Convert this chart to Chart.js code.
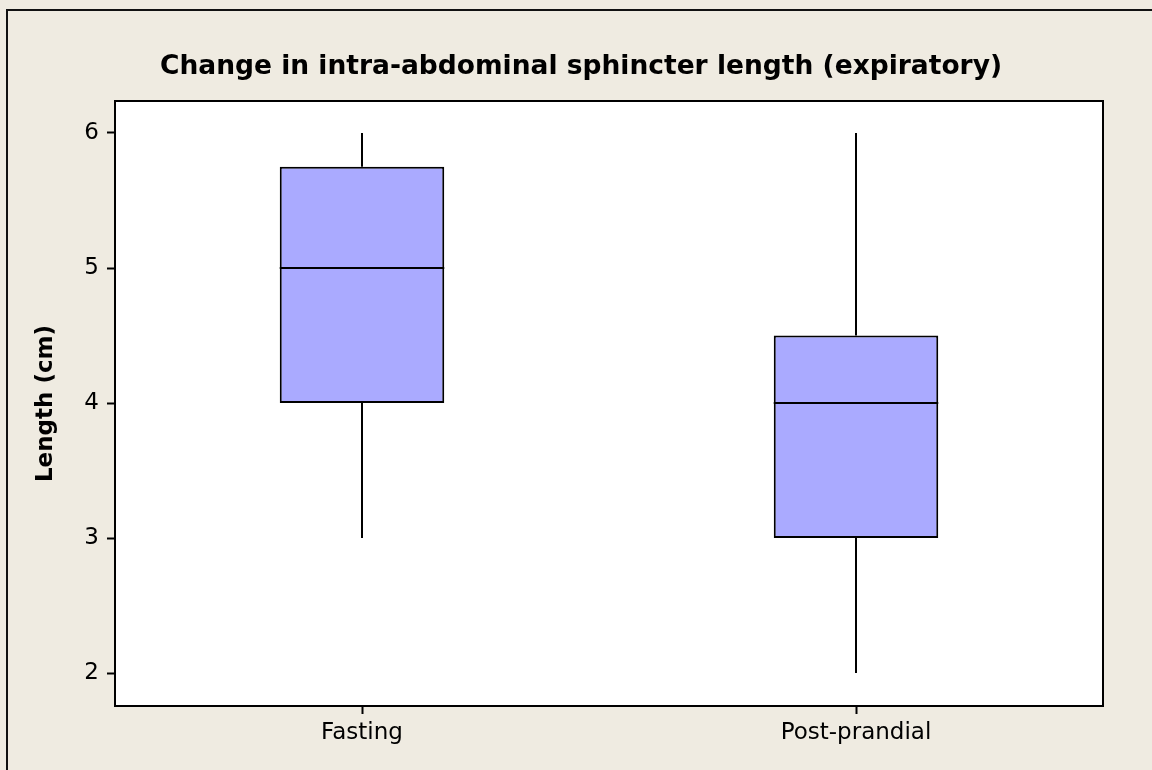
<!DOCTYPE html>
<html><head><meta charset="utf-8">
<script src="https://cdn.jsdelivr.net/npm/chart.js@4.4.0/dist/chart.umd.min.js"></script>
<style>html,body{margin:0;padding:0;background:#EFEBE1;} canvas{display:block;}</style>
</head><body>
<canvas id="c" width="1152" height="770"></canvas>
<script>
const categories = ['Fasting', 'Post-prandial'];
const whiskerLow = [3, 2];
const q1 = [4, 3];
const median = [5, 4];
const q3 = [5.75, 4.5];
const whiskerHigh = [6, 6];
const yTicks = [2, 3, 4, 5, 6];

const FONT = "'DejaVu Sans', Verdana, sans-serif";
const BG = '#EFEBE1';

const framePlugin = {
  id: 'frame',
  afterLayout(chart) {
    const tb = chart.titleBlock;
    if (tb) { tb.left = 59; tb.right = 1103; tb.width = tb.right - tb.left; }
  },
  beforeDraw(chart) {
    const ctx = chart.ctx, a = chart.chartArea;
    ctx.save();
    ctx.fillStyle = BG;
    ctx.fillRect(0, 0, chart.width, chart.height);
    ctx.strokeStyle = '#111';
    ctx.lineWidth = 2;
    ctx.beginPath();
    ctx.moveTo(7, chart.height + 5);
    ctx.lineTo(7, 10);
    ctx.lineTo(chart.width + 5, 10);
    ctx.stroke();
    ctx.fillStyle = '#FFFFFF';
    ctx.fillRect(a.left, a.top, a.right - a.left, a.bottom - a.top);
    ctx.restore();
  },
  afterDatasetsDraw(chart) {
    const ctx = chart.ctx, a = chart.chartArea;
    const ys = chart.scales.y;
    const meta = chart.getDatasetMeta(0);
    ctx.save();
    ctx.strokeStyle = '#000';
    ctx.lineWidth = 2;
    meta.data.forEach((bar, i) => {
      const x = Math.round(bar.x);
      const half = bar.width / 2;
      ctx.beginPath();
      ctx.moveTo(x, ys.getPixelForValue(q3[i]));
      ctx.lineTo(x, ys.getPixelForValue(whiskerHigh[i]));
      ctx.moveTo(x, ys.getPixelForValue(q1[i]));
      ctx.lineTo(x, ys.getPixelForValue(whiskerLow[i]));
      const my = ys.getPixelForValue(median[i]);
      ctx.moveTo(bar.x - half, my);
      ctx.lineTo(bar.x + half, my);
      ctx.stroke();
    });
    ctx.strokeRect(a.left, a.top, a.right - a.left, a.bottom - a.top);
    ctx.restore();
  }
};

new Chart(document.getElementById('c'), {
  type: 'bar',
  data: {
    labels: categories,
    datasets: [{
      data: q1.map((v, i) => [v, q3[i]]),
      backgroundColor: '#AAAAFF',
      borderColor: '#000000',
      borderWidth: 2,
      borderSkipped: false,
      barPercentage: 0.333,
      categoryPercentage: 1.0
    }]
  },
  options: {
    responsive: false,
    animation: false,
    layout: { padding: { left: 0, right: 49, top: 0, bottom: 0 } },
    plugins: {
      legend: { display: false },
      tooltip: { enabled: false },
      title: {
        display: true,
        text: 'Change in intra-abdominal sphincter length (expiratory)',
        color: '#000',
        font: { family: FONT, size: 26.5, weight: 'bold', lineHeight: 1.2 },
        padding: { top: 51, bottom: 18.2 }
      }
    },
    scales: {
      x: {
        offset: true,
        grid: { display: true, drawOnChartArea: false, offset: false, tickLength: 8, tickWidth: 2, tickColor: '#000' },
        border: { display: true, color: '#000', width: 2 },
        ticks: { color: '#000', padding: 5, font: { family: FONT, size: 23 } },
        afterFit(s) { s.height = 64; }
      },
      y: {
        min: 1.756,
        max: 6.237,
        afterBuildTicks(s) { s.ticks = yTicks.map(v => ({ value: v })); },
        grid: { display: true, drawOnChartArea: false, tickLength: 8, tickWidth: 2, tickColor: '#000' },
        border: { display: true, color: '#000', width: 2 },
        ticks: { color: '#000', padding: 8, font: { family: FONT, size: 23 } },
        title: {
          display: true,
          text: 'Length (cm)',
          color: '#000',
          font: { family: FONT, size: 23, weight: 'bold', lineHeight: 1.2 },
          padding: { top: 32, bottom: 0 }
        },
        afterFit(s) { s.width = 115; }
      }
    }
  },
  plugins: [framePlugin]
});
</script>
</body></html>
